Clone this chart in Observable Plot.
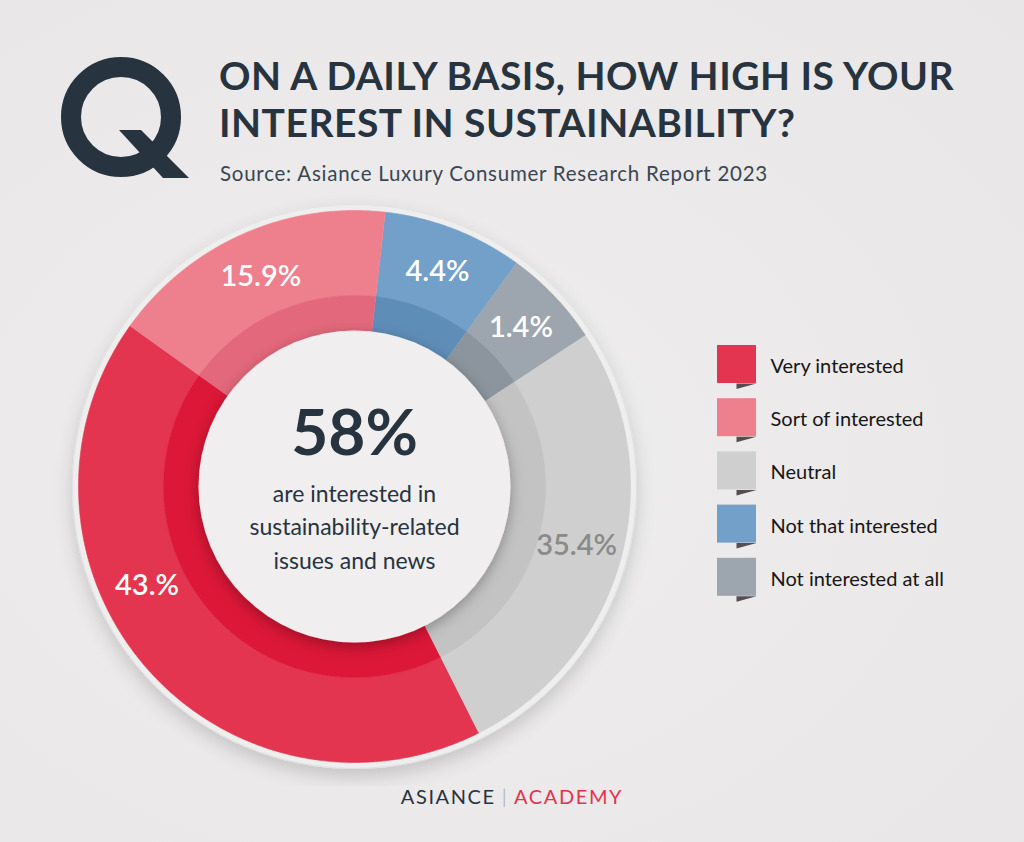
<!DOCTYPE html>
<html>
<head>
<meta charset="utf-8">
<script src="https://cdn.jsdelivr.net/npm/d3@7"></script>
<script src="https://cdn.jsdelivr.net/npm/@observablehq/plot@0.6"></script>
<style>
  html, body { margin: 0; padding: 0; }
  body { background: #ebe9e9; font-family: Lato, "Noto Sans", sans-serif; }
  #page { position: relative; width: 1024px; height: 842px; overflow: hidden;
          background: radial-gradient(ellipse at 40% 55%, #efeeee 0%, #ebe9e9 55%, #e8e6e6 100%); }
  #logo { position: absolute; left: 55px; top: 50px; }
  #title { position: absolute; left: 219px; top: 52px; margin: 0; font-family: Lato, sans-serif;
           font-weight: 700; font-size: 39px; line-height: 47px; color: #27333f; letter-spacing: 0.5px; }
  #subtitle { position: absolute; left: 220px; top: 161px; margin: 0; font-size: 20.5px; letter-spacing: 0.75px; color: #3a4652; }
  #chart { position: absolute; left: 0; top: 195px; }
  #footer { position: absolute; left: 0; width: 1024px; top: 784px; text-align: center;
            font-size: 20px; letter-spacing: 1.6px; color: #27333f; }
  #footer .sep { color: #9aa0a6; font-weight: 300; margin: 0 6px; }
  #footer .acad { color: #e3334f; }
</style>
</head>
<body>
<div id="page">
  <svg id="logo" width="140" height="135" viewBox="0 0 140 135">
    <circle cx="66" cy="67" r="50" fill="none" stroke="#27333f" stroke-width="20"/>
    <polygon points="64,80 86,80 134,128 108,128" fill="#27333f"/>
  </svg>
  <h1 id="title"></h1>
  <p id="subtitle"></p>
  <div id="chart"></div>
  <div id="footer"></div>
</div>
<script>
// ---------- data ----------
const titleLines = ["ON A DAILY BASIS, HOW HIGH IS YOUR", "INTEREST IN SUSTAINABILITY?"];
const subtitle = "Source: Asiance Luxury Consumer Research Report 2023";
const categories = ["Very interested", "Sort of interested", "Neutral", "Not that interested", "Not interested at all"];
const percentValues = [43, 15.9, 35.4, 4.4, 1.4];
const percentLabels = ["43.%", "15.9%", "35.4%", "4.4%", "1.4%"];
// share of the ring each slice occupies as drawn in the picture (%)
const arcShares = [42.3, 16.9, 26.8, 8.2, 5.8];
// clockwise order of the slices around the ring, starting just right of 12 o'clock
const ringOrder = ["Not that interested", "Not interested at all", "Neutral", "Very interested", "Sort of interested"];
const outerColors = ["#e3354f", "#ee7f8c", "#cfcfcf", "#72a0c8", "#9da6ae"];
const innerColors = ["#dc1737", "#e3687b", "#c3c3c3", "#5e8db8", "#8c959d"];
const labelColors = ["#ffffff", "#ffffff", "#8a8a8a", "#ffffff", "#ffffff"];
const headline = "58%";
const headlineNote = ["are interested in", "sustainability-related", "issues and news"];
const footer = ["ASIANCE", "ACADEMY"];

// ---------- page text ----------
document.getElementById("title").innerHTML = titleLines.join("<br>");
document.getElementById("subtitle").textContent = subtitle;
document.getElementById("footer").innerHTML =
  `<span>${footer[0]}</span><span class="sep">|</span><span class="acad">${footer[1]}</span>`;

// ---------- geometry ----------
const W = 1024, H = 590, CX = 354, CY = 291;
const START = 6.4;                    // degrees clockwise from top
const R_RIM = 282, R_OUT = 276, R_MID = 191, R_IN = 156, R_LABEL = 230;
const rad = a => a * Math.PI / 180;
const pt = (a, r) => ({x: r * Math.sin(rad(a)), y: -r * Math.cos(rad(a))});

let acc = START;
const slices = ringOrder.map(name => {
  const i = categories.indexOf(name);
  const span = arcShares[i] / 100 * 360;
  const s = {i, name, a0: acc, a1: acc + span};
  acc += span;
  return s;
});

function band(s, r0, r1, color, key) {
  const n = Math.max(2, Math.ceil((s.a1 - s.a0) / 0.5));
  const out = [];
  for (let k = 0; k <= n; k++) out.push({...pt(s.a0 + (s.a1 - s.a0) * k / n, r1), key, color});
  for (let k = n; k >= 0; k--) out.push({...pt(s.a0 + (s.a1 - s.a0) * k / n, r0), key, color});
  return out;
}
const outerPts = slices.flatMap(s => band(s, R_MID, R_OUT, outerColors[s.i], "o" + s.i));
const innerPts = slices.flatMap(s => band(s, R_IN - 2, R_MID, innerColors[s.i], "i" + s.i));

const labelNudge = {"Very interested": 15};
const labelData = slices.map(s => {
  const a = (s.a0 + s.a1) / 2 + (labelNudge[s.name] || 0);
  return {...pt(a, R_LABEL), text: percentLabels[s.i], color: labelColors[s.i]};
});

const center = [{x: 0, y: 0}];

// legend layout
const LEG_X0 = 363, LEG_X1 = 402, LEG_Y0 = -141, LEG_STEP = 53.2, LEG_SIZE = 38;
const legend = categories.map((c, i) => ({
  name: c, color: outerColors[i],
  y1: LEG_Y0 + i * LEG_STEP, y2: LEG_Y0 + i * LEG_STEP + LEG_SIZE
}));
const tabPts = legend.flatMap((d, i) => [
  {x: LEG_X0 + 19, y: d.y2, key: i},
  {x: LEG_X1, y: d.y2, key: i},
  {x: LEG_X0 + 19, y: d.y2 + 5.5, key: i}
]);

const chart = Plot.plot({
  width: W, height: H, margin: 0,
  x: {domain: [-CX, W - CX], range: [0, W], axis: null},
  y: {domain: [-CY, H - CY], range: [0, H], axis: null},
  color: {type: "identity"},
  style: {background: "transparent", overflow: "visible", fontFamily: "Lato, sans-serif"},
  marks: [
    Plot.dot(center, {x: "x", y: "y", r: R_RIM, fill: "#efeeee", stroke: "#e2e0e0", strokeWidth: 1}),
    Plot.line(outerPts, {x: "x", y: "y", z: "key", fill: "color", stroke: "color", strokeWidth: 0.6, curve: "linear"}),
    Plot.line(innerPts, {x: "x", y: "y", z: "key", fill: "color", stroke: "color", strokeWidth: 0.6, curve: "linear"}),
    Plot.dot(center, {x: "x", y: "y", r: R_IN, fill: "#f0eeee"}),
    Plot.text(labelData, {x: "x", y: "y", text: "text", fill: "color", fontSize: 29, fontWeight: 600}),
    Plot.text([headline], {x: () => 0, y: () => -52, text: d => d, fill: "#27333f", fontSize: 64, fontWeight: 700}),
    Plot.text([headlineNote.join("\n")], {x: () => 0, y: () => 38, text: d => d, fill: "#27333f", fontSize: 23, lineHeight: 1.45}),
    Plot.rect(legend, {x1: () => LEG_X0, x2: () => LEG_X1, y1: "y1", y2: "y2", fill: "color"}),
    Plot.line(tabPts, {x: "x", y: "y", z: "key", fill: "#3b3236", fillOpacity: 0.85, stroke: "none"}),
    Plot.text(legend, {x: () => LEG_X1 + 14, y: d => (d.y1 + d.y2) / 2 + 2, text: "name", textAnchor: "start", fill: "#161616", fontSize: 20})
  ]
});

// soft shadows for the rim and the centre disc
const svg = d3.select(chart.tagName.toLowerCase() === "svg" ? chart : chart.querySelector("svg"));
svg.style("overflow", "visible");
const defs = svg.insert("defs", ":first-child");
const f1 = defs.append("filter").attr("id", "rimShadow").attr("filterUnits", "userSpaceOnUse")
  .attr("x", 0).attr("y", 0).attr("width", W).attr("height", H);
f1.append("feDropShadow").attr("dx", 0).attr("dy", 8).attr("stdDeviation", 9).attr("flood-color", "#000").attr("flood-opacity", 0.16);
const f2 = defs.append("filter").attr("id", "discShadow").attr("filterUnits", "userSpaceOnUse")
  .attr("x", 0).attr("y", 0).attr("width", W).attr("height", H);
f2.append("feDropShadow").attr("dx", 0).attr("dy", 4).attr("stdDeviation", 7).attr("flood-color", "#000").attr("flood-opacity", 0.3);
const circles = svg.selectAll("circle").nodes();
if (circles[0]) circles[0].setAttribute("filter", "url(#rimShadow)");
if (circles[1]) circles[1].setAttribute("filter", "url(#discShadow)");

document.getElementById("chart").appendChild(chart);
</script>
</body>
</html>
